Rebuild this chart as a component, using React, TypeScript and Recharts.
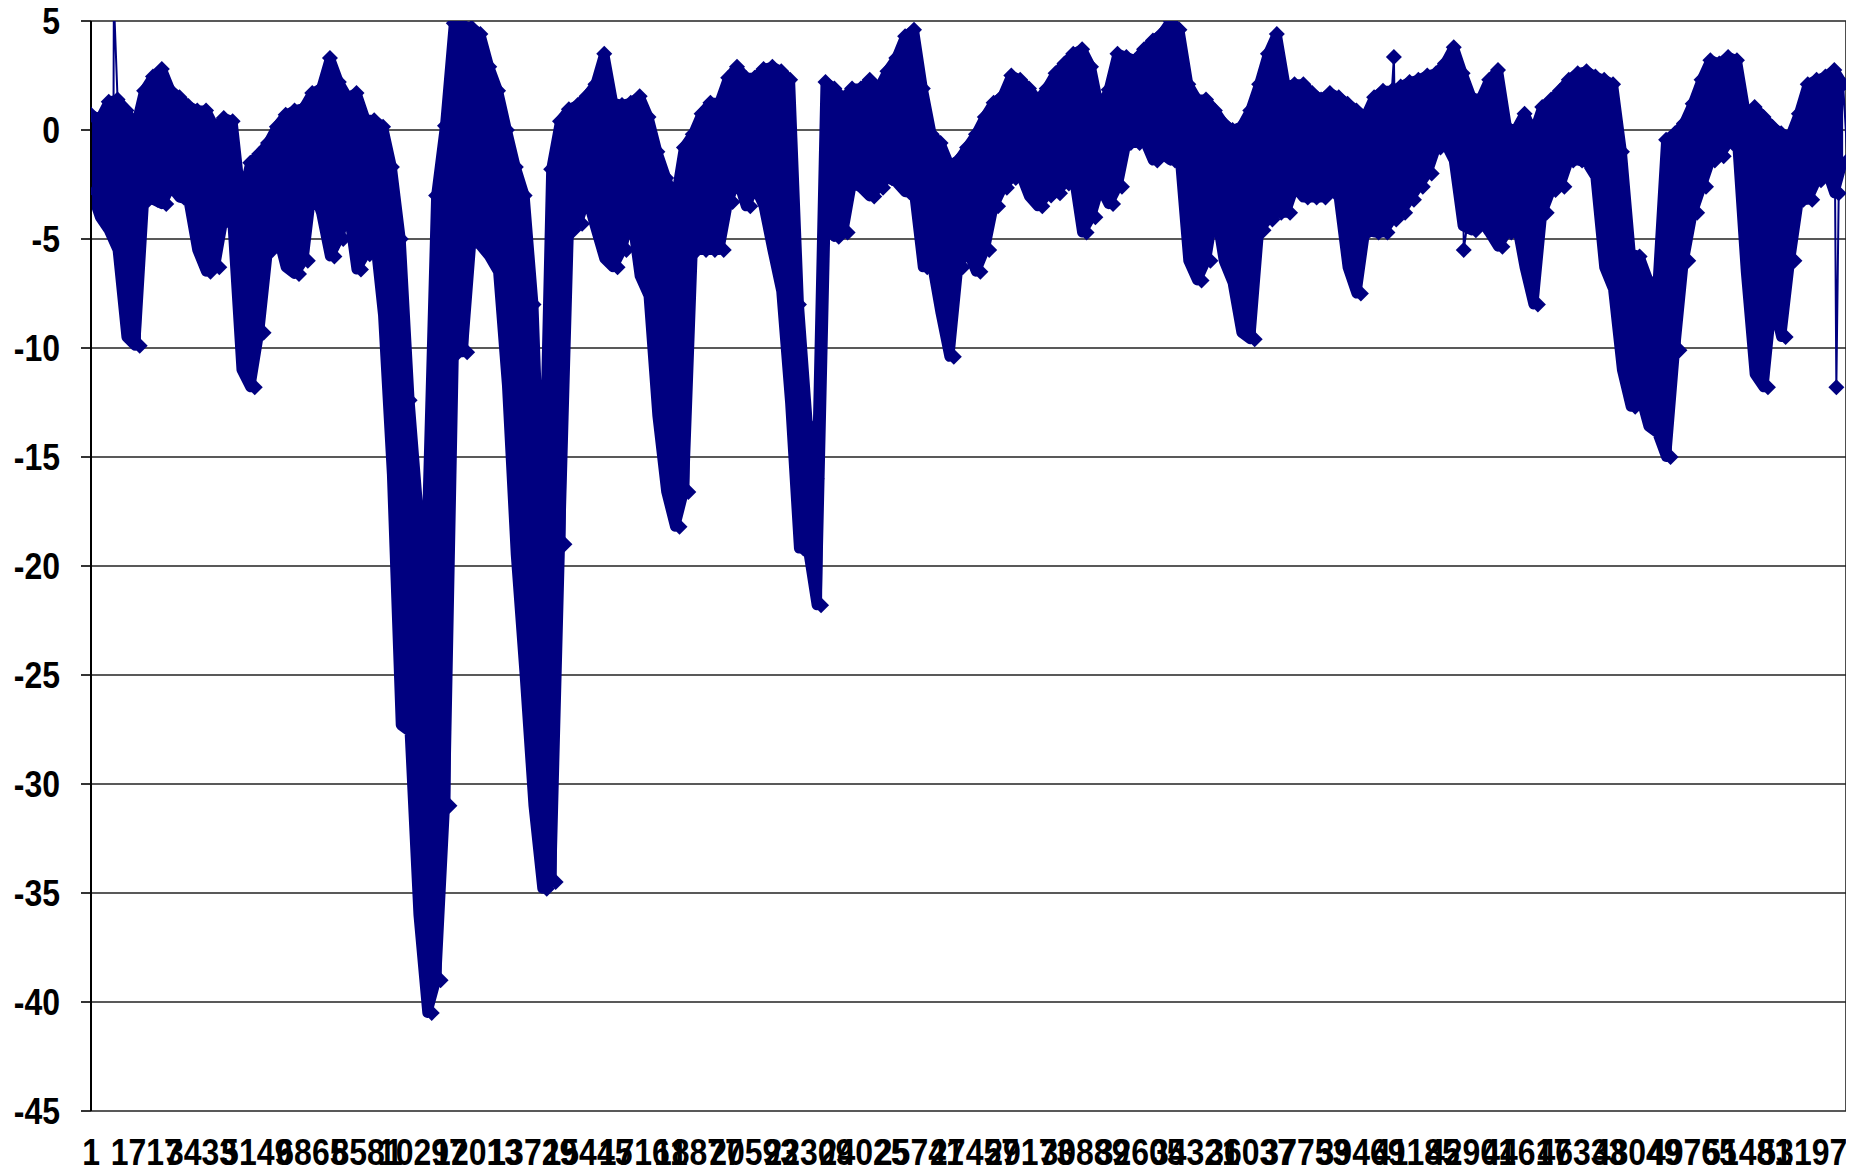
import React from 'react';
import { ComposedChart, Area, Line, XAxis, YAxis, CartesianGrid } from 'recharts';

// Sample index space of the series and the spacing of the read-off columns.
const CATEGORY_COUNT = 54540;
const SAMPLE_STEP = 275;

// Upper and lower edge of the value band, one pair per column (column k sits at index 1 + k * SAMPLE_STEP).
const HIGHS = [
  0.7, 0.5, 1.3, 1.4, 0.9, 0.1, 1.8, 2.45, 2.8, 1.8,
  1.5, 1.1, 0.9, 0.9, 0.1, 0.55, 0.4, -3.3, -1.5, -1.1,
  -0.6, 0.15, 0.7, 0.9, 1.0, 1.7, 1.9, 3.3, 2.2, 1.5,
  1.7, 0.5, 0.45, 0.15, -1.7, -5.0, -12.4, -17.5, -17.5, -3.0,
  0.2, 4.9, 4.8, 4.7, 4.4, 2.9, 1.8, 0, -1.7, -3.0,
  -8, -19.2, -1.8, 0.4, 0.95, 1.15, 1.55, 2.1, 3.5, 1.25,
  1.15, 1.25, 1.55, 0.6, -1.0, -2.2, -3.3, -0.8, -0.2, 0.75,
  1.25, 1.25, 2.4, 2.9, 2.4, 2.4, 2.8, 2.9, 2.7, 2.3,
  -8, -13.5, -16, 2.2, 1.9, 1.45, 1.9, 1.9, 2.3, 1.9,
  2.7, 3.3, 4.3, 4.6, 1.9, -0.2, -0.6, -1.6, -1.4, -0.8,
  -0.2, 0.6, 1.25, 1.55, 2.5, 2.3, 1.9, 1.35, 1.9, 2.6,
  3.05, 3.5, 3.7, 2.9, 0.9, 1.85, 3.5, 3.35, 3.2, 3.7,
  4.1, 4.4, 5.0, 4.6, 2.1, 1.4, 1.4, 0.9, 0.3, 0,
  0.15, 0.9, 2.1, 3.5, 4.4, 2.0, 2.1, 2.1, 1.7, 1.4,
  1.7, 1.5, 1.2, 0.9, 0.6, 1.5, 1.8, 1.8, 2.0, 2.2,
  2.3, 2.5, 2.6, 3.05, 3.8, 2.6, 1.5, 1.4, 2.3, 2.75,
  0.15, 0, 0.75, -0.15, 1.05, 1.4, 1.8, 2.3, 2.6, 2.7,
  2.45, 2.3, 2.1, -1.0, -5.65, -5.8, -6.9, -7.2, -0.45, -0.15,
  0.3, 1.2, 2.3, 3.2, 3.05, 3.35, 3.2, 0.75, 1.05, 0.6,
  0.15, -0.15, -0.3, 0.75, 2.1, 2.3, 2.45, 2.75, 2.1,
];

const LOWS = [
  -2.8, -4.0, -4.6, -5.5, -9.5, -9.9, -3.2, -3.2, -3.4, -2.6,
  -3.1, -3.2, -5.5, -6.5, -6.3, -4.0, -4.4, -11.0, -11.8, -9.3,
  -5.5, -4.7, -6.3, -6.6, -6.0, -2.6, -3.8, -5.8, -5.0, -3.5,
  -6.4, -5.7, -4.7, -8.5, -15.8, -27.3, -27.6, -36, -40.5, -39,
  -31, -10.2, -10.2, -5.0, -5.3, -5.8, -6.5, -11.7, -19.5, -25,
  -31, -34.8, -34.5, -19, -4.6, -4.3, -3.05, -4.5, -5.9, -6.3,
  -5.5, -3.7, -6.7, -7.6, -13.1, -16.6, -18.2, -16.6, -5.5, -5.5,
  -5.5, -5.5, -3.3, -2.2, -3.5, -2.6, -3.5, -5.5, -7.4, -12.5,
  -19.2, -19.2, -21.8, -4.2, -4.9, -4.7, -2.4, -2.65, -3.05, -2.65,
  -2.2, -2.4, -2.85, -2.85, -6.3, -6.1, -8.4, -10.4, -6.3, -5.5,
  -6.5, -5.5, -3.5, -2.65, -2.2, -2.0, -3.05, -3.5, -3.0, -2.9,
  -2.45, -2.0, -4.7, -4.0, -2.6, -3.4, -2.6, -0.6, -0.6, -0.45,
  -1.4, -1.1, -1.4, -1.1, -6.0, -6.9, -6.0, -3.5, -6.0, -7.0,
  -9.3, -9.6, -4.6, -4.1, -3.8, -3.8, -2.6, -3.1, -3.1, -3.1,
  -2.6, -3.1, -6.3, -7.5, -4.6, -4.7, -4.7, -4.1, -3.8, -3.2,
  -2.6, -2.0, -0.8, -0.6, -1.4, -4.4, -4.6, -4.1, -4.7, -5.35,
  -4.7, -4.1, -6.3, -8.0, -3.8, -2.75, -2.6, -1.4, -1.4, -1.5,
  -2.15, -6.3, -7.3, -11.0, -12.7, -12.1, -13.6, -13.9, -15.0, -10.1,
  -6.0, -3.8, -2.6, -1.4, -1.2, -0.6, -0.45, -6.5, -11.2, -11.8,
  -7.8, -9.5, -6.0, -3.2, -3.2, -2.3, -1.7, -2.9, -1.4,
];

// Isolated outlying samples: index and value.
const SPIKES = [
  { at: 710, value: 6 },
  { at: 40490, value: 3.35 },
  { at: 42660, value: -5.5 },
  { at: 54240, value: -11.8 },
];

const Y_TICKS = [5, 0, -5, -10, -15, -20, -25, -30, -35, -40, -45];
const GRID_TICKS = [
  0, 1644, 3288, 4932, 6576, 8220, 9864, 11508, 13152, 14796, 16440, 18084,
  19728, 21372, 23016, 24660, 26304, 27948, 29592, 31236, 32880, 34524, 36168,
  37812, 39456, 41100, 42744, 44388, 46032, 47676, 49320, 50964, 52608, 54252,
];
const LABEL_TICKS = [
  1, 1717, 3433, 5149, 6865, 8581, 10297, 12013, 13729, 15445, 17161, 18877,
  20593, 22309, 24025, 25741, 27457, 29173, 30889, 32605, 34321, 36037, 37753,
  39469, 41185, 42901, 44617, 46333, 48049, 49765, 51481, 53197,
];

const NAVY = '#000080';
const FONT = '"Liberation Sans", Arial, Helvetica, sans-serif';
const LABEL_SIZE = 32;
const LABEL_STRETCH = 1.15;

const bandRows = HIGHS.map((hi, k) => ({ x: 1 + k * SAMPLE_STEP, band: [LOWS[k], hi] }));

const traceRows: { x: number; v: number }[] = [];
HIGHS.forEach((hi, k) => {
  const x = 1 + k * SAMPLE_STEP;
  traceRows.push({ x, v: hi });
  traceRows.push({ x: x + SAMPLE_STEP / 2, v: LOWS[k] });
});
SPIKES.forEach((s) => traceRows.push({ x: s.at, v: s.value }));
traceRows.sort((a, b) => a.x - b.x);

const Diamond = (props: any) => {
  const { cx, cy, index } = props;
  if (cx == null || cy == null) return <g key={`dm-${index}`} />;
  const r = 8;
  return (
    <polygon
      key={`dm-${index}`}
      points={`${cx},${cy - r} ${cx + r},${cy} ${cx},${cy + r} ${cx - r},${cy}`}
      fill={NAVY}
      stroke="none"
    />
  );
};

// Bold, slightly tall tick labels.
const XTick = (props: any) => {
  const { x, y, payload } = props;
  return (
    <g transform={`translate(${x},${y + 54}) scale(1,${LABEL_STRETCH})`}>
      <text
        x={0}
        y={0}
        textAnchor="middle"
        fill="#000"
        fontSize={LABEL_SIZE}
        fontWeight={700}
        fontFamily={FONT}
      >
        {payload.value}
      </text>
    </g>
  );
};

const YTick = (props: any) => {
  const { x, y, payload } = props;
  return (
    <g transform={`translate(${x},${y}) scale(1,${LABEL_STRETCH})`}>
      <text
        x={0}
        y={0}
        dy="0.36em"
        textAnchor="end"
        fill="#000"
        fontSize={LABEL_SIZE}
        fontWeight={700}
        fontFamily={FONT}
      >
        {payload.value}
      </text>
    </g>
  );
};

export default function App() {
  return (
    <div style={{ width: 1846, height: 1175, marginTop: -8, background: '#fff' }}>
      <ComposedChart
        width={1846}
        height={1175}
        margin={{ top: 21, right: 8, bottom: 0, left: 0 }}
      >
        <CartesianGrid xAxisId="grid" yAxisId={0} stroke="#222" strokeWidth={1.6} />
        <XAxis
          xAxisId="grid"
          type="number"
          dataKey="x"
          domain={[0, CATEGORY_COUNT]}
          allowDataOverflow
          ticks={GRID_TICKS}
          interval={0}
          tick={false}
          tickSize={11}
          tickLine={{ stroke: '#000', strokeWidth: 1.6 }}
          axisLine={{ stroke: '#000', strokeWidth: 2.5 }}
          height={0}
        />
        <XAxis
          xAxisId="labels"
          type="number"
          dataKey="x"
          domain={[0, CATEGORY_COUNT]}
          allowDataOverflow
          ticks={LABEL_TICKS}
          interval={0}
          tick={<XTick />}
          tickSize={0}
          tickMargin={0}
          tickLine={false}
          axisLine={false}
          height={64}
        />
        <XAxis
          xAxisId="top"
          orientation="top"
          type="number"
          dataKey="x"
          domain={[0, CATEGORY_COUNT]}
          allowDataOverflow
          tick={false}
          tickLine={false}
          axisLine={{ stroke: '#9a9a9a', strokeWidth: 2 }}
          height={0}
        />
        <YAxis
          yAxisId={0}
          type="number"
          domain={[-45, 5]}
          allowDataOverflow
          ticks={Y_TICKS}
          interval={0}
          width={83}
          tick={<YTick />}
          tickSize={10}
          tickMargin={21}
          tickLine={{ stroke: '#000', strokeWidth: 1.6 }}
          axisLine={{ stroke: '#000', strokeWidth: 2 }}
        />
        <YAxis
          yAxisId="right"
          orientation="right"
          type="number"
          domain={[-45, 5]}
          allowDataOverflow
          tick={false}
          tickLine={false}
          axisLine={{ stroke: '#9a9a9a', strokeWidth: 2 }}
          width={0}
        />
        <Area
          xAxisId="grid"
          yAxisId={0}
          data={bandRows}
          dataKey="band"
          type="linear"
          stroke={NAVY}
          strokeWidth={10}
          strokeLinejoin="round"
          fill={NAVY}
          fillOpacity={1}
          dot={false}
          activeDot={false}
          isAnimationActive={false}
        />
        <Line
          xAxisId="grid"
          yAxisId={0}
          data={traceRows}
          dataKey="v"
          type="linear"
          stroke={NAVY}
          strokeWidth={2}
          dot={Diamond}
          activeDot={false}
          isAnimationActive={false}
        />
      </ComposedChart>
    </div>
  );
}
